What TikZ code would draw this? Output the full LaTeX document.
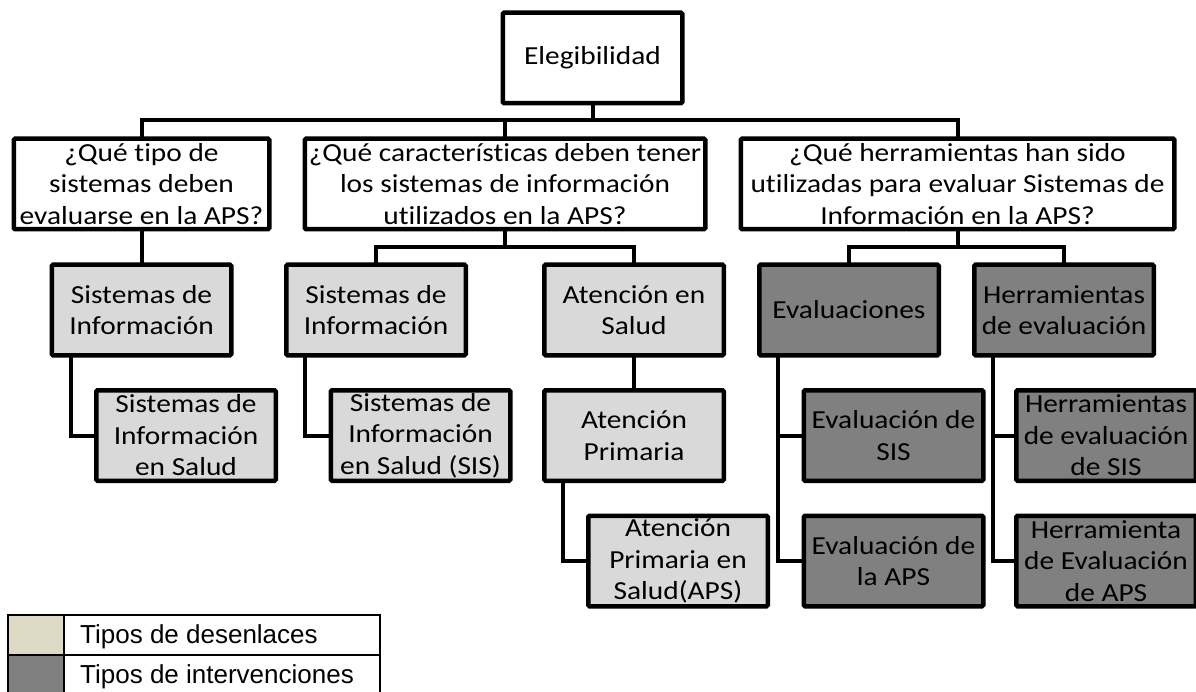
\documentclass[tikz,border=0pt]{standalone}
\usepackage{fontspec}
\setmainfont{Carlito}[FakeStretch=1.13, Ligatures={NoCommon}]
\newfontfamily\legendfont{Liberation Sans}

\tikzset{
  box/.style={draw=black, line width=4.5pt, rounded corners=1.2pt, inner sep=0pt,
              minimum width=175pt, minimum height=86pt},
  qbox/.style={box, fill=white},
  plain/.style={box, fill=white},
  light/.style={box, fill=boxlight},
  dark/.style={box, fill=boxdark},
  txt/.style={inner sep=0pt, align=center, font=\fontsize{26}{31.5}\selectfont},
  link/.style={draw=black, line width=4pt, line join=miter},
  legline/.style={draw=black, line width=1.6pt},
  legtext/.style={anchor=base west, inner sep=0pt, font=\legendfont\fontsize{26}{30}\selectfont},
}
\definecolor{boxlight}{HTML}{D9D9D9}
\definecolor{boxdark}{HTML}{808080}
\definecolor{legtan}{HTML}{DDD9C3}

\begin{document}
\begin{tikzpicture}[x=1pt, y=-1pt]
\useasboundingbox (0,0) rectangle (1196,692);

% ---- boxes (pixel grid, y downwards)
\node[plain] (root) at (592.5,58) {};
\node[qbox, minimum width=251pt] (q1) at (141.5,184) {};
\node[qbox, minimum width=396pt] (q2) at (505,184) {};
\node[qbox, minimum width=429pt] (q3) at (957.5,184) {};

\node[light] (si1) at (141.5,310) {};
\node[light] (si2) at (376,310) {};
\node[light] (as)  at (634,310) {};
\node[dark]  (ev)  at (849,310) {};
\node[dark]  (he)  at (1064,310) {};

\node[light] (sis1)  at (186,435.5) {};
\node[light] (sis2)  at (420.5,435.5) {};
\node[light] (ap)    at (634,435.5) {};
\node[dark]  (evsis) at (893.5,435.5) {};
\node[dark]  (hsis)  at (1106,435.5) {};

\node[light] (aps)   at (678,561) {};
\node[dark]  (evaps) at (893.5,561) {};
\node[dark]  (haps)  at (1106,561) {};

% ---- connectors
\coordinate (bus1) at (0,120);
\coordinate (bus2) at (0,247);

\path[link] (root.south) -- (root.south |- bus1);
\path[link] (q1.north) -- (q1.north |- bus1) -- (q3.north |- bus1) -- (q3.north);
\path[link] (q2.north) -- (q2.north |- bus1);

\path[link] (q1.south) -- (si1.north);

\path[link] (q2.south) -- (q2.south |- bus2);
\path[link] (si2.north) -- (si2.north |- bus2) -- (as.north |- bus2) -- (as.north);

\path[link] (q3.south) -- (q3.south |- bus2);
\path[link] (ev.north) -- (ev.north |- bus2) -- (he.north |- bus2) -- (he.north);

\path[link] ([xshift=19pt]si1.south west) |- (sis1.west);
\path[link] ([xshift=19pt]si2.south west) |- (sis2.west);
\path[link] (as.south) -- (ap.north);
\path[link] ([xshift=19pt]ap.south west) |- (aps.west);
\path[link] ([xshift=19pt]ev.south west) |- (evsis.west);
\path[link] ([xshift=19pt]ev.south west) |- (evaps.west);
\path[link] ([xshift=19pt]he.south west) |- (hsis.west);
\path[link] ([xshift=19pt]he.south west) |- (haps.west);

% boxes again, over the connector ends
\foreach \n/\s in {root/plain,q1/qbox,q2/qbox,q3/qbox,
                  si1/light,si2/light,as/light,ev/dark,he/dark,
                  sis1/light,sis2/light,ap/light,evsis/dark,hsis/dark,
                  aps/light,evaps/dark,haps/dark}{
  \path[\s] (\n.north west) rectangle (\n.south east);
}

% ---- texts
\node[txt] (troot) at (root) {Elegibilidad};
\node[txt] (tq1) at (q1) {¿Qué tipo de\\sistemas deben\\evaluarse en la APS?};
\node[txt] (tq2) at (q2) {¿Qué características deben tener\\los sistemas de información\\utilizados en la APS?};
\node[txt] (tq3) at (q3) {¿Qué herramientas han sido\\utilizadas para evaluar Sistemas de\\Información en la APS?};
\node[txt] (tsi1) at (si1) {Sistemas de\\Información};
\node[txt] (tsi2) at (si2) {Sistemas de\\Información};
\node[txt] (tas) at (as) {Atención en\\Salud};
\node[txt] (tev) at (ev) {Evaluaciones};
\node[txt] (the) at (he) {Herramientas\\de evaluación};
\node[txt] (tsis1) at (sis1) {Sistemas de\\Información\\en Salud};
\node[txt] (tsis2) at (sis2) {Sistemas de\\Información\\en Salud (SIS)};
\node[txt] (tap) at (ap) {Atención\\Primaria};
\node[txt] (tevsis) at (evsis) {Evaluación de\\SIS};
\node[txt] (thsis) at (hsis) {Herramientas\\de evaluación\\de SIS};
\node[txt] (taps) at (aps) {Atención\\Primaria en\\Salud(APS)};
\node[txt] (tevaps) at (evaps) {Evaluación de\\la APS};
\node[txt] (thaps) at (haps) {Herramienta\\de Evaluación\\de APS};

% ---- legend
\fill[legtan] (8,615) rectangle (64,655);
\fill[boxdark] (8,655) rectangle (64,695);
\draw[legline] (8,615) rectangle (380,695);
\draw[legline] (64,615) -- (64,695);
\draw[legline] (8,655) -- (380,655);
\node[legtext] (leg1) at (80,643) {Tipos de desenlaces};
\node[legtext] (leg2) at (80,683) {Tipos de intervenciones};
\end{tikzpicture}
\end{document}
